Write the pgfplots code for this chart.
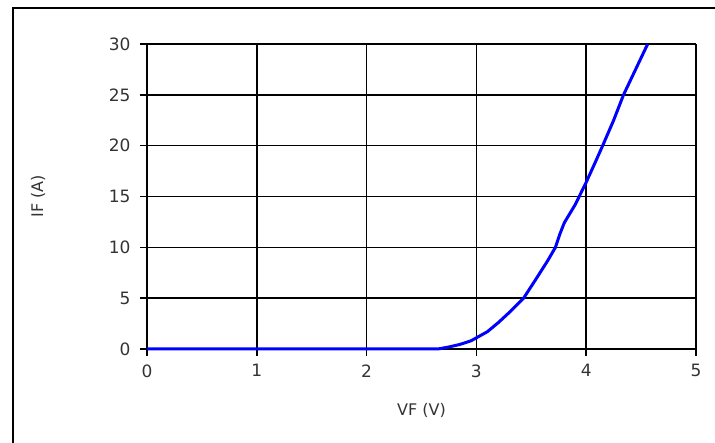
\documentclass[border=0pt]{standalone}
\usepackage{fontspec}
\setmainfont{DejaVu Sans}
\usepackage{pgfplots}
\pgfplotsset{compat=1.18}
\definecolor{lblgray}{HTML}{333333}
\begin{document}
\begin{tikzpicture}[x=1pt,y=1pt]
\useasboundingbox (-147,-94) rectangle (568,349);
% outer frame (left and top edges visible)
\draw[line width=1.6pt] (-134,-94) -- (-134,341) -- (568,341);
\begin{axis}[
  at={(0,0)}, anchor=origin,
  scale only axis,
  width=549pt, height=305pt,
  xmin=0, xmax=5, ymin=0, ymax=30,
  axis x line*=bottom, axis y line*=left,
  xtick={0,1,2,3,4,5},
  ytick={0,5,10,15,20,25,30},
  tick align=outside,
  major tick length=7pt,
  grid=major,
  major grid style={black, line width=1.6pt},
  axis line style={black, line width=1.6pt, -},
  tick style={black, line width=1.6pt},
  tick label style={font=\fontsize{17}{19}\selectfont, text=lblgray},
  xticklabel style={yshift=-5pt},
  yticklabel style={xshift=-6pt},
  /pgf/number format/assume math mode=true,
  xlabel={VF (V)},
  ylabel={IF (A)},
  xlabel style={font=\fontsize{16}{18}\selectfont, text=lblgray, at={(axis description cs:0.5,0)}, anchor=center, yshift=-61pt},
  ylabel style={font=\fontsize{16}{18}\selectfont, text=lblgray, at={(axis description cs:0,0.5)}, anchor=center, yshift=109pt},
  clip=false,
]
\addplot[blue, line width=3pt] coordinates {
 (0,0) (1,0) (2,0) (2.65,0) (2.75,0.2) (2.85,0.45) (2.95,0.8) (3.0,1.1)
 (3.1,1.7) (3.2,2.6) (3.3,3.6) (3.43,5.0) (3.55,7.0) (3.65,8.7) (3.72,10.0)
 (3.76,11.3) (3.80,12.4) (3.9,14.2) (4.0,16.4) (4.08,18.3) (4.15,20.0) (4.25,22.5)
 (4.34,25.0) (4.45,27.5) (4.56,30.0)
};
\end{axis}
\end{tikzpicture}
\end{document}
